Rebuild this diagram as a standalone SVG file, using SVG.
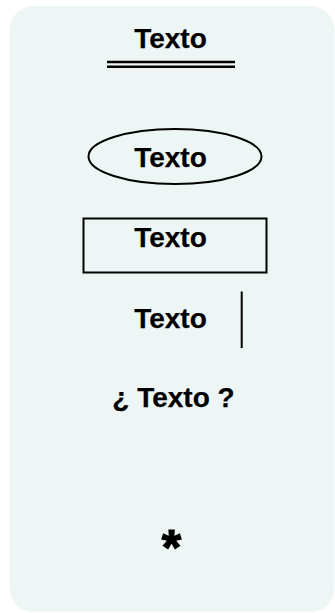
<svg xmlns="http://www.w3.org/2000/svg" width="335" height="613" viewBox="0 0 335 613">
<style>
.t{font-family:"Liberation Sans",Arial,sans-serif;font-weight:bold;font-size:28px;fill:#000;stroke:#000;stroke-width:0.25;text-anchor:middle}
.s{fill:none;stroke:#000;stroke-width:2}
</style>
<rect x="9.5" y="6" width="325" height="606" rx="24" ry="24" fill="#EEF6F5"/>
<g id="title">
<text class="t" x="170.5" y="47.5">Texto</text>
<line x1="107" y1="62" x2="235" y2="62" stroke="#000" stroke-width="2.5"/>
<line x1="107" y1="66.8" x2="235" y2="66.8" stroke="#000" stroke-width="2.5"/>
</g>
<g id="ellipse">
<ellipse class="s" cx="175" cy="156.5" rx="86.5" ry="27.5"/>
<text class="t" x="170.5" y="166.5">Texto</text>
</g>
<g id="box">
<rect class="s" x="83.5" y="218.5" width="183" height="54"/>
<text class="t" x="170.5" y="247">Texto</text>
</g>
<g id="bar">
<text class="t" x="170.5" y="328">Texto</text>
<line class="s" x1="241.7" y1="291.5" x2="241.7" y2="348"/>
</g>
<g id="question">
<text class="t" x="173.5" y="407">¿ Texto ?</text>
</g>
<g id="star">
<text class="t" x="171.5" y="565" style="font-size:50px;stroke-width:1.2">*</text>
</g>
</svg>
